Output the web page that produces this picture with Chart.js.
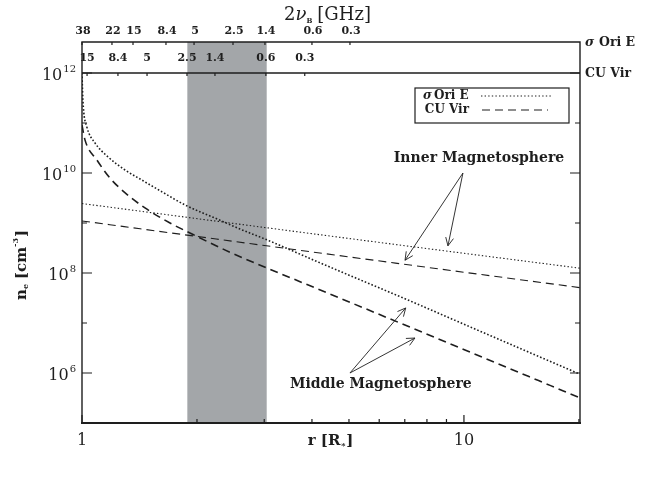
<!DOCTYPE html>
<html lang="en">
<head>
<meta charset="UTF-8">
<title>Electron density vs radius</title>
<script src="https://cdn.jsdelivr.net/npm/chart.js@4"></script>
<style>
  html, body { margin: 0; padding: 0; background: #fff; }
  #wrap { width: 648px; height: 479px; }
</style>
</head>
<body>
<div id="wrap"><canvas id="neChart" width="648" height="479"></canvas></div>
<script>
// n_e [cm^-3] against r [R*]
const rSigInner = [1, 5, 20.1];
const neSigInner = [2.45e9, 4.9e8, 1.25e8];
const rCuInner = [1, 5, 20.1];
const neCuInner = [1.1e9, 2.1e8, 5.1e7];

const rSigMiddle = [1.0, 1.002, 1.008, 1.029, 1.081, 1.17, 1.296, 1.436, 1.62, 1.86, 2.26, 2.59, 3.05, 4.12, 5.24, 7.05, 10.4, 20.1];
const neSigMiddle = [1.0e12, 5.8e11, 2.1e11, 8.5e10, 4.0e10, 2.1e10, 1.15e10, 7.2e9, 4.2e9, 2.3e9, 1.2e9, 7.6e8, 4.6e8, 1.7e8, 7.8e7, 3.0e7, 8.3e6, 9.5e5];
const rCuMiddle = [1.0, 1.018, 1.095, 1.184, 1.288, 1.462, 1.70, 1.894, 2.44, 3.05, 4.46, 6.8, 10.4, 20.1];
const neCuMiddle = [9.1e10, 4.6e10, 1.8e10, 7.9e9, 4.2e9, 2.0e9, 1.0e9, 6.6e8, 2.6e8, 1.26e8, 3.8e7, 1.0e7, 2.6e6, 3.2e5];

// shaded r range
const bandR = [1.887, 3.045];

// top axes: 2 nu_B [GHz] for each star, placed at r
const sigTickLabels = ['38', '22', '15', '8.4', '5', '2.5', '1.4', '0.6', '0.3'];
const sigTickR = [1.0, 1.198, 1.36, 1.659, 1.965, 2.485, 3.013, 4.0, 5.03];
const cuTickLabels = ['15', '8.4', '5', '2.5', '1.4', '0.6', '0.3'];
const cuTickR = [1.031, 1.242, 1.48, 1.883, 2.229, 3.03, 3.83];

// bottom / left tick labels
const xTickVals = [1, 10];
const yTickExps = [12, 10, 8, 6];

// annotation anchors in data units [r, n_e]
const innerText = [10.95, 2.0e10];
const innerFrom = [9.94, 1.0e10];
const innerTips = [[7.01, 1.8e8], [9.08, 3.5e8]];
const middleText = [6.06, 6.0e5];
const middleFrom = [5.03, 1.0e6];
const middleTips = [[7.04, 2.0e7], [7.44, 5.0e6]];

const toXY = (rs, ns) => rs.map((r, i) => ({ x: r, y: ns[i] }));
const ink = '#1e1e1e';
const serif = '"DejaVu Serif", serif';

const dotted = [1.4, 2.2];
const dashed = [8, 5];

const frame = {
  id: 'frame',
  beforeDatasetsDraw(chart) {
    const { ctx, chartArea: a, scales: { x } } = chart;
    const x0 = x.getPixelForValue(bandR[0]);
    const x1 = x.getPixelForValue(bandR[1]);
    ctx.save();
    ctx.fillStyle = '#a3a6a9';
    ctx.fillRect(x0, a.top, x1 - x0, a.bottom - a.top);
    ctx.restore();
  },
  afterDatasetsDraw(chart) {
    const { ctx, chartArea: a, scales: { x, y } } = chart;
    const y12 = y.getPixelForValue(1e12);
    ctx.save();
    ctx.strokeStyle = ink;
    ctx.fillStyle = ink;

    // box
    ctx.lineWidth = 1.4;
    ctx.beginPath();
    ctx.moveTo(a.left, a.bottom); ctx.lineTo(a.left, a.top);
    ctx.lineTo(a.right, a.top); ctx.lineTo(a.right, a.bottom);
    ctx.moveTo(a.left, y12); ctx.lineTo(a.right, y12);
    ctx.stroke();
    ctx.lineWidth = 2.2;
    ctx.beginPath();
    ctx.moveTo(a.left - 1, a.bottom); ctx.lineTo(a.right + 1, a.bottom);
    ctx.stroke();

    // y ticks, both sides
    ctx.lineWidth = 1.2;
    ctx.beginPath();
    for (let e = 6; e <= 12; e++) {
      const py = y.getPixelForValue(Math.pow(10, e));
      const len = e % 2 === 0 ? 10 : 5;
      ctx.moveTo(a.left, py); ctx.lineTo(a.left + len, py);
      ctx.moveTo(a.right, py); ctx.lineTo(a.right - len, py);
    }
    // x ticks
    [1, 2, 3, 4, 5, 6, 7, 8, 9, 10, 20].forEach(v => {
      const px = x.getPixelForValue(v);
      const len = (v === 1 || v === 10) ? 8 : 4;
      ctx.moveTo(px, a.bottom); ctx.lineTo(px, a.bottom - len);
    });
    // frequency ticks
    sigTickR.forEach(r => {
      const px = x.getPixelForValue(r);
      ctx.moveTo(px, a.top); ctx.lineTo(px, a.top + 3);
    });
    cuTickR.forEach(r => {
      const px = x.getPixelForValue(r);
      ctx.moveTo(px, y12); ctx.lineTo(px, y12 + 3);
    });
    ctx.stroke();

    // y tick labels with superscript
    yTickExps.forEach(e => {
      const py = y.getPixelForValue(Math.pow(10, e));
      ctx.font = '10px ' + serif;
      ctx.textAlign = 'right';
      ctx.textBaseline = 'alphabetic';
      const supW = ctx.measureText(String(e)).width;
      ctx.fillText(String(e), a.left - 6, py - 1);
      ctx.font = '16px ' + serif;
      ctx.fillText('10', a.left - 6 - supW - 1, py + 7);
    });

    // x tick labels
    ctx.font = '16px ' + serif;
    ctx.textAlign = 'center';
    ctx.textBaseline = 'middle';
    xTickVals.forEach(v => ctx.fillText(String(v), x.getPixelForValue(v), a.bottom + 18));

    // frequency labels
    ctx.font = 'bold 11px ' + serif;
    sigTickR.forEach((r, i) => ctx.fillText(sigTickLabels[i], x.getPixelForValue(r) + 1, a.top - 11));
    cuTickR.forEach((r, i) => ctx.fillText(cuTickLabels[i], x.getPixelForValue(r), a.top + 16));

    // star names on the right
    ctx.textAlign = 'left';
    ctx.font = 'italic bold 12.5px ' + serif;
    ctx.fillText('σ', a.right + 5, a.top + 1);
    ctx.font = 'bold 12.5px ' + serif;
    ctx.fillText('Ori E', a.right + 19, a.top + 1);
    ctx.fillText('CU Vir', a.right + 5, y12 + 1);

    // top title
    ctx.font = '18px ' + serif;
    ctx.textAlign = 'left';
    ctx.textBaseline = 'alphabetic';
    let tx = 284;
    ctx.fillText('2', tx, 20); tx += ctx.measureText('2').width;
    ctx.font = 'italic 18px ' + serif;
    ctx.fillText('ν', tx, 20); tx += ctx.measureText('ν').width;
    ctx.font = 'bold 7px ' + serif;
    ctx.fillText('B', tx, 23); tx += ctx.measureText('B').width + 5;
    ctx.font = '18px ' + serif;
    ctx.fillText('[GHz]', tx, 20);

    // axis titles
    ctx.font = 'bold 15px ' + serif;
    ctx.textAlign = 'center';
    ctx.textBaseline = 'middle';
    ctx.fillText('r [R', 324, a.bottom + 18);
    const rw = ctx.measureText('r [R').width;
    ctx.font = 'bold 8px ' + serif;
    ctx.fillText('*', 324 + rw / 2 + 3, a.bottom + 23);
    ctx.font = 'bold 15px ' + serif;
    ctx.textAlign = 'left';
    ctx.fillText(']', 324 + rw / 2 + 6, a.bottom + 18);

    ctx.save();
    ctx.translate(22, 248);
    ctx.rotate(-Math.PI / 2);
    ctx.textAlign = 'left';
    let ly = -52;
    ctx.font = 'bold 15px ' + serif;
    ctx.fillText('n', ly, 0); ly += ctx.measureText('n').width;
    ctx.font = 'bold 8px ' + serif;
    ctx.fillText('e', ly, 4); ly += ctx.measureText('e').width + 5;
    ctx.font = 'bold 15px ' + serif;
    ctx.fillText('[cm', ly, 0); ly += ctx.measureText('[cm').width;
    ctx.font = 'bold 8px ' + serif;
    ctx.fillText('-3', ly, -6); ly += ctx.measureText('-3').width + 1;
    ctx.font = 'bold 15px ' + serif;
    ctx.fillText(']', ly, 0);
    ctx.restore();

    // legend box
    ctx.lineWidth = 1.2;
    ctx.strokeRect(415, 88, 154, 35);
    ctx.textAlign = 'left';
    ctx.font = 'italic bold 12px ' + serif;
    ctx.fillText('σ', 423, 96);
    ctx.font = 'bold 12px ' + serif;
    ctx.fillText('Ori E', 434, 96);
    ctx.textAlign = 'right';
    ctx.fillText('CU Vir', 469, 110);
    ctx.lineWidth = 1.1;
    ctx.setLineDash(dotted);
    ctx.beginPath(); ctx.moveTo(481, 96); ctx.lineTo(553, 96); ctx.stroke();
    ctx.setLineDash(dashed);
    ctx.beginPath(); ctx.moveTo(482, 110); ctx.lineTo(548, 110); ctx.stroke();
    ctx.setLineDash([]);

    // annotations
    const px = p => [x.getPixelForValue(p[0]), y.getPixelForValue(p[1])];
    const arrow = (from, tip) => {
      const [x0, y0] = px(from), [x1, y1] = px(tip);
      const ang = Math.atan2(y1 - y0, x1 - x0);
      ctx.beginPath();
      ctx.moveTo(x0, y0); ctx.lineTo(x1, y1);
      [-0.45, 0.45].forEach(d => {
        ctx.moveTo(x1, y1);
        ctx.lineTo(x1 - 9 * Math.cos(ang + d), y1 - 9 * Math.sin(ang + d));
      });
      ctx.stroke();
    };
    ctx.lineWidth = 0.9;
    innerTips.forEach(t => arrow(innerFrom, t));
    middleTips.forEach(t => arrow(middleFrom, t));

    ctx.font = 'bold 14px ' + serif;
    ctx.textAlign = 'center';
    ctx.textBaseline = 'middle';
    let p = px(innerText);
    ctx.fillText('Inner Magnetosphere', p[0], p[1]);
    p = px(middleText);
    ctx.fillText('Middle Magnetosphere', p[0], p[1]);

    ctx.restore();
  }
};

const line = (data, dash, width) => ({
  data, borderColor: ink, borderWidth: width, borderDash: dash,
  pointRadius: 0, fill: false, cubicInterpolationMode: 'monotone'
});

new Chart(document.getElementById('neChart'), {
  type: 'line',
  data: {
    datasets: [
      line(toXY(rSigInner, neSigInner), dotted, 1.1),
      line(toXY(rCuInner, neCuInner), dashed, 1.1),
      line(toXY(rSigMiddle, neSigMiddle), [1.6, 2.0], 1.6),
      line(toXY(rCuMiddle, neCuMiddle), [8, 5], 1.6)
    ]
  },
  options: {
    responsive: false,
    animation: false,
    layout: { padding: { left: 82, right: 68, top: 42, bottom: 56 } },
    plugins: { legend: { display: false }, tooltip: { enabled: false } },
    scales: {
      x: { type: 'logarithmic', min: 1, max: 20.13, display: false },
      y: { type: 'logarithmic', min: 1e5, max: 4.17e12, display: false }
    }
  },
  plugins: [frame]
});
</script>
</body>
</html>
